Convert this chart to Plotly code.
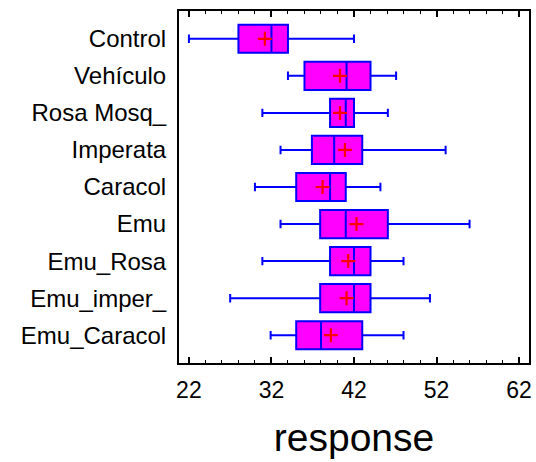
import plotly.graph_objects as go

categories = ["Control", "Vehículo", "Rosa Mosq_", "Imperata", "Caracol",
              "Emu", "Emu_Rosa", "Emu_imper_", "Emu_Caracol"]
lower_whisker = [22.0, 34.0, 30.9, 33.1, 30.0, 33.1, 30.9, 27.0, 31.9]
q1_values     = [28.0, 36.0, 39.1, 36.9, 35.0, 37.9, 39.1, 37.9, 35.0]
medians       = [32.0, 41.1, 41.0, 39.6, 39.1, 41.0, 42.0, 42.0, 38.0]
q3_values     = [34.0, 44.0, 42.0, 43.0, 41.0, 46.1, 44.0, 44.0, 43.0]
upper_whisker = [42.0, 47.1, 46.1, 53.1, 45.2, 56.0, 48.0, 51.2, 48.0]
means         = [31.2, 40.3, 40.3, 40.9, 38.2, 42.3, 41.3, 41.1, 39.2]
x_tick_values = [22, 32, 42, 52, 62]

fig = go.Figure()
fig.add_trace(go.Box(
    y=categories, q1=q1_values, median=medians, q3=q3_values,
    lowerfence=lower_whisker, upperfence=upper_whisker,
    orientation="h", fillcolor="#FF00FF",
    line=dict(color="#0000FF", width=2),
    whiskerwidth=0.3, width=0.76, boxpoints=False, showlegend=False,
))
fig.add_trace(go.Scatter(
    x=means, y=categories, mode="markers", showlegend=False,
    marker=dict(symbol="cross-thin-open", size=10, color="#FF0000",
                line=dict(color="#FF0000", width=2.2)),
))

font = "Liberation Sans, Arial, sans-serif"
fig.update_layout(
    width=536, height=462,
    margin=dict(l=179, r=4, t=11, b=99),
    paper_bgcolor="white", plot_bgcolor="white",
    font=dict(family=font, color="black"),
    xaxis=dict(
        range=[20.8, 63.2], tickvals=x_tick_values,
        ticks="inside", ticklen=6, tickwidth=2, tickcolor="black",
        showline=True, linewidth=2, linecolor="black", mirror="ticks",
        showgrid=False, zeroline=False,
        tickfont=dict(size=23, family=font),
        ticklabelstandoff=5,
        minor=dict(dtick=2, tick0=22, ticks="inside", ticklen=3,
                   tickwidth=1, tickcolor="black", showgrid=False),
        title=dict(text="response", font=dict(size=39, family=font), standoff=22),
    ),
    yaxis=dict(
        categoryorder="array", categoryarray=categories,
        range=[8.75, -0.75],
        showline=True, linewidth=2, linecolor="black", mirror=True,
        ticks="", showgrid=False, zeroline=False,
        tickfont=dict(size=24, family=font),
        ticklabelstandoff=6,
    ),
)
fig.write_html("out.html")
